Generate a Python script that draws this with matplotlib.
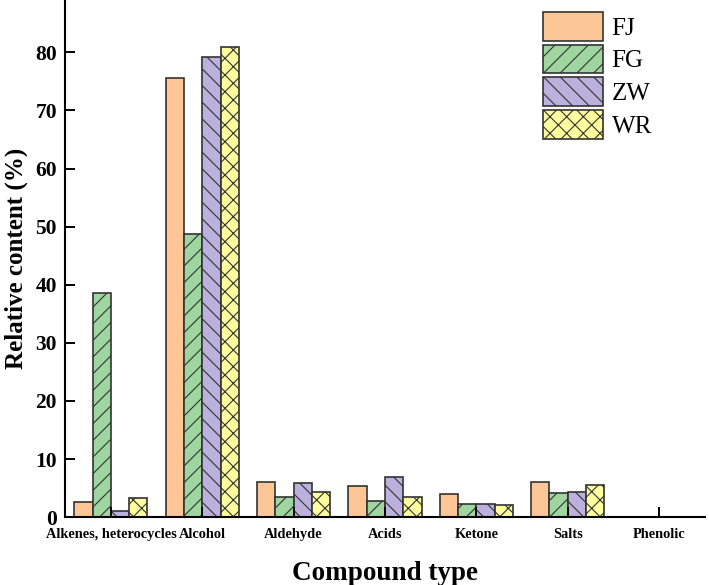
import numpy as np
import matplotlib
matplotlib.use('Agg')
import matplotlib.pyplot as plt

plt.rcParams['font.family'] = ['Liberation Serif', 'DejaVu Serif']
plt.rcParams['hatch.linewidth'] = 0.8
plt.rcParams['hatch.color'] = '#333333'

# Compound categories and relative content (%) per sample
categories = ['Alkenes, heterocycles', 'Alcohol', 'Aldehyde', 'Acids',
              'Ketone', 'Salts', 'Phenolic']
fj = [2.6, 75.6, 6.0, 5.3, 4.0, 6.0, 0.0]
fg = [38.6, 48.7, 3.4, 2.8, 2.2, 4.1, 0.0]
zw = [1.1, 79.2, 5.8, 6.9, 2.2, 4.3, 0.0]
wr = [3.3, 80.9, 4.4, 3.4, 2.1, 5.5, 0.0]
samples = ['FJ', 'FG', 'ZW', 'WR']

colors = ['#FDC697', '#9FD6A0', '#BCB0DC', '#FFFE9E']
hatches = ['', '//', '\\\\', 'xx']

fig = plt.figure(figsize=(7.09, 5.85), dpi=100)
ax = fig.add_axes([0.092, 0.116, 0.902, 0.884])

x = np.arange(len(categories))
w = 0.2
for i, (vals, name) in enumerate(zip([fj, fg, zw, wr], samples)):
    ax.bar(x + (i - 1.5) * w, vals, w, color=colors[i], hatch=hatches[i],
           edgecolor='#333333', linewidth=1.2, label=name)

ax.set_xlim(-0.5, 6.5)
ax.set_ylim(0, 89)
ax.set_yticks(np.arange(0, 81, 10))
ax.set_xticks(x)
ax.set_xticklabels(categories, fontsize=10.4, fontweight='bold')
for lab in ax.get_yticklabels():
    lab.set_fontsize(15.5)
    lab.set_fontweight('bold')
ax.tick_params(axis='both', direction='in', length=7.5, width=1.4)
ax.tick_params(axis='y', pad=6)
ax.tick_params(axis='x', pad=8)

ax.spines['top'].set_visible(False)
ax.spines['right'].set_visible(False)
ax.spines['left'].set_linewidth(1.5)
ax.spines['bottom'].set_linewidth(1.5)

ax.set_ylabel('Relative content (%)', fontsize=18, fontweight='bold',
              labelpad=5)
ax.set_xlabel('Compound type', fontsize=19.5, fontweight='bold', labelpad=14)

ax.legend(loc='upper left', bbox_to_anchor=(0.747, 0.977), frameon=False,
          fontsize=18, handlelength=2.4, handleheight=1.4, labelspacing=0.15,
          borderpad=0, borderaxespad=0, handletextpad=0.35)

fig.savefig('out.png', dpi=100)
